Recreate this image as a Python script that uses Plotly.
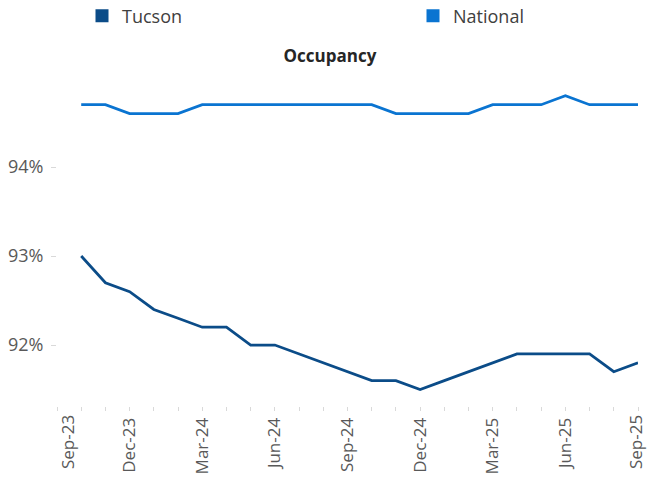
import plotly.graph_objects as go

# ---- data ----
months = ["Oct-23", "Nov-23", "Dec-23", "Jan-24", "Feb-24", "Mar-24", "Apr-24", "May-24",
          "Jun-24", "Jul-24", "Aug-24", "Sep-24", "Oct-24", "Nov-24", "Dec-24", "Jan-25",
          "Feb-25", "Mar-25", "Apr-25", "May-25", "Jun-25", "Jul-25", "Aug-25", "Sep-25"]
tucson = [93.0, 92.7, 92.6, 92.4, 92.3, 92.2, 92.2, 92.0, 92.0, 91.9, 91.8, 91.7,
          91.6, 91.6, 91.5, 91.6, 91.7, 91.8, 91.9, 91.9, 91.9, 91.9, 91.7, 91.8]
national = [94.7, 94.7, 94.6, 94.6, 94.6, 94.7, 94.7, 94.7, 94.7, 94.7, 94.7, 94.7,
            94.7, 94.6, 94.6, 94.6, 94.6, 94.7, 94.7, 94.7, 94.8, 94.7, 94.7, 94.7]
axis_months = ["Sep-23"] + months          # monthly axis positions, Sep-23 .. Sep-25
tick_labels = ["Sep-23", "Dec-23", "Mar-24", "Jun-24", "Sep-24",
               "Dec-24", "Mar-25", "Jun-25", "Sep-25"]
y_ticks = [92, 93, 94]

TUC = "#0B4C88"
NAT = "#0A74D1"
FONT = "Open Sans"
TICK_FONT = dict(family=FONT, size=17, color="#595959")

x_idx = [axis_months.index(m) for m in months]
tickvals = list(range(len(axis_months)))
# end labels are nudged inward (as the original does), so they are drawn as annotations
edge_labels = {tick_labels[0]: 10, tick_labels[-1]: -3}
ticktext = [m if (m in tick_labels and m not in edge_labels) else "" for m in axis_months]

fig = go.Figure()
fig.add_trace(go.Scatter(x=x_idx, y=national, mode="lines", name="National",
                         line=dict(color=NAT, width=2.75), showlegend=False))
fig.add_trace(go.Scatter(x=x_idx, y=tucson, mode="lines", name="Tucson",
                         line=dict(color=TUC, width=2.75), showlegend=False))
# legend entries (square swatches), one legend each so they sit apart
fig.add_trace(go.Scatter(x=[None], y=[None], mode="markers", name="Tucson",
                         marker=dict(symbol="square", size=13, color=TUC), legend="legend"))
fig.add_trace(go.Scatter(x=[None], y=[None], mode="markers", name="National",
                         marker=dict(symbol="square", size=13, color=NAT), legend="legend2"))

for lab, shift in edge_labels.items():
    fig.add_annotation(x=axis_months.index(lab), xref="x", y=0, yref="paper",
                       text=lab, showarrow=False, textangle=-90,
                       xanchor="center", yanchor="top", yshift=-7, xshift=shift,
                       font=TICK_FONT)

leg_common = dict(orientation="h", xref="container", yref="container",
                  xanchor="left", yanchor="middle", y=1 - 16 / 477,
                  font=dict(family=FONT, size=18, color="#404040"),
                  itemwidth=30, bgcolor="rgba(0,0,0,0)", borderwidth=0)

fig.update_layout(
    width=647, height=477,
    margin=dict(l=57, r=9, t=78, b=71, autoexpand=False),
    paper_bgcolor="white", plot_bgcolor="white",
    font=dict(family=FONT, color="#595959", size=18),
    title=dict(text="<b>Occupancy</b>", x=0.51, xanchor="center",
               y=1 - 56 / 477, yanchor="middle",
               font=dict(family=FONT, size=17, color="#262626")),
    legend=dict(x=82 / 647, **leg_common),
    legend2=dict(x=413 / 647, **leg_common),
    showlegend=True,
)
fig.update_xaxes(range=[0, 24], tickmode="array", tickvals=tickvals, ticktext=ticktext,
                 tickangle=-90, ticks="outside", ticklen=4, tickcolor="#D9D9D9",
                 showgrid=False, zeroline=False, showline=False, automargin=False,
                 ticklabeloverflow="allow", tickfont=TICK_FONT)
fig.update_yaxes(range=[91.315, 95.0], tickmode="array", tickvals=y_ticks,
                 ticktext=[f"{v}%" for v in y_ticks],
                 ticks="outside", ticklen=5, tickcolor="#D9D9D9",
                 ticklabelstandoff=4,
                 showgrid=False, zeroline=False, showline=False, automargin=False,
                 tickfont=dict(family=FONT, size=18, color="#595959"))

fig.write_html("out.html", config={"displayModeBar": False},
               post_script="document.body.style.margin='0';document.body.style.overflow='hidden';")
